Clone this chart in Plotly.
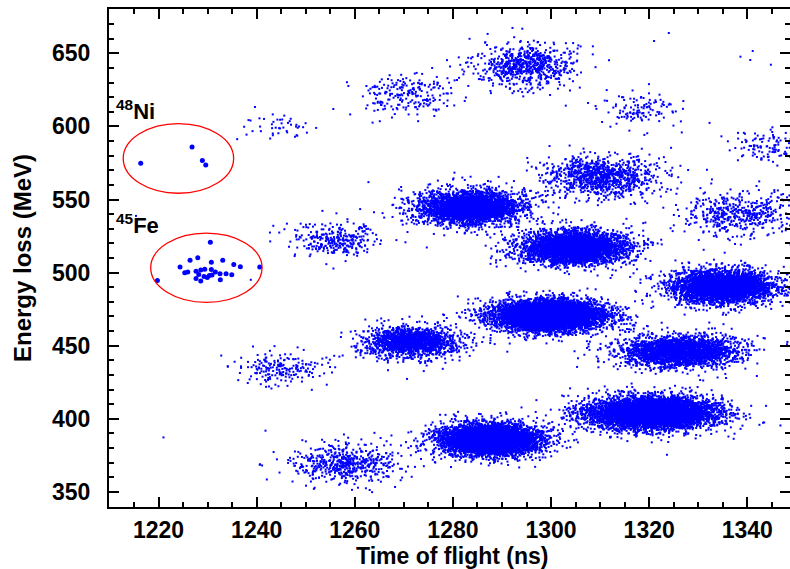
import numpy as np
import plotly.graph_objects as go

# ---- cluster descriptions (time of flight ns, energy loss MeV) ----
clus_x = [1258.5, 1287.6, 1320.5, 1245.0, 1271.5, 1299.8, 1326.3, 1335.0, 1256.0,
          1283.5, 1304.9, 1310.0, 1339.0, 1244.5, 1270.5, 1294.7, 1318.5, 1344.0]
clus_y = [370.0, 385.7, 404.0, 434.0, 452.5, 470.8, 446.0, 490.3, 522.4,
          544.3, 516.9, 565.5, 540.0, 601.0, 621.5, 642.0, 611.5, 587.0]
clus_sx = [5.5, 4.4, 5.8, 4.0, 4.2, 4.8, 5.3, 4.8, 3.8,
           4.7, 4.7, 5.2, 5.3, 4.0, 4.4, 4.8, 3.8, 3.5]
clus_sy = [6.2, 4.7, 5.0, 5.5, 4.8, 4.7, 5.0, 5.0, 5.8,
           5.2, 5.0, 6.3, 7.0, 5.5, 6.5, 7.0, 5.5, 5.5]
clus_n = [550, 6000, 6500, 200, 1700, 7500, 2600, 3800, 300,
          3500, 4200, 1000, 500, 45, 220, 700, 120, 110]

# isolated events outside the clusters
stray_x = [1221.0, 1240.7, 1241.8, 1215.4, 1238.8, 1242.7, 1244.6, 1324.0, 1321.0,
           1338.6, 1341.1, 1340.6, 1344.8, 1332.3, 1303.0, 1304.5, 1299.8]
stray_y = [387.3, 368.9, 391.9, 538.8, 495.1, 527.4, 527.4, 663.9, 658.4,
           647.7, 651.6, 645.4, 642.2, 602.4, 614.2, 657.0, 621.5]

# identified 48Ni events
ni_x = [1216.37, 1226.83, 1228.93, 1229.62]
ni_y = [574.83, 585.97, 576.60, 573.67]

# identified 45Fe events
fe_x = [1230.56, 1227.99, 1226.42, 1233.08, 1230.76, 1224.38, 1235.33, 1236.67, 1240.62,
        1225.34, 1225.95, 1227.64, 1228.60, 1229.42, 1230.76, 1231.58, 1228.19, 1229.27,
        1229.94, 1230.35, 1230.90, 1232.53, 1233.76, 1234.92, 1227.64, 1228.60, 1232.59,
        1219.76]
fe_y = [520.84, 510.11, 508.54, 508.54, 507.17, 503.76, 505.53, 503.96, 503.76,
        499.86, 500.34, 501.02, 501.71, 502.39, 502.12, 500.34, 498.70, 497.33,
        496.65, 498.01, 498.29, 499.18, 499.18, 498.50, 495.97, 494.19, 495.08,
        494.60]

# gate ellipses [x0, x1, y0, y1]
ni_gate = [1212.8, 1235.3, 554.3, 601.9]
fe_gate = [1218.4, 1241.1, 479.6, 527.0]

# ---- build the event cloud from the cluster descriptions ----
rng = np.random.default_rng(7)
xs, ys = [], []
for cx, cy, sx, sy, n in zip(clus_x, clus_y, clus_sx, clus_sy, clus_n):
    nc = int(n * 0.8)
    nh = n - nc
    xs.append(rng.normal(cx, sx, nc)); ys.append(rng.normal(cy, sy, nc))
    xs.append(rng.normal(cx, sx * 1.4, nh)); ys.append(rng.normal(cy, sy * 1.35, nh))
xs.append(np.array(stray_x)); ys.append(np.array(stray_y))
X = np.concatenate(xs); Y = np.concatenate(ys)

fig = go.Figure()
fig.add_trace(go.Scatter(x=X, y=Y, mode="markers",
                         marker=dict(symbol="square", size=2, color="#0000ff", line=dict(width=0)),
                         hoverinfo="skip", showlegend=False))
fig.add_trace(go.Scatter(x=ni_x + fe_x, y=ni_y + fe_y, mode="markers",
                         marker=dict(symbol="circle", size=5, color="#0000ff", line=dict(width=0)),
                         showlegend=False))

for g in (ni_gate, fe_gate):
    fig.add_shape(type="circle", xref="x", yref="y", x0=g[0], x1=g[1], y0=g[2], y1=g[3],
                  line=dict(color="#ff0000", width=1.3))

lab_font = dict(family="Liberation Sans", size=22, color="black", weight="bold")
fig.add_annotation(x=1211.0, y=611.0, xref="x", yref="y", text="<sup>48</sup>Ni",
                   showarrow=False, xanchor="left", yanchor="middle", font=lab_font)
fig.add_annotation(x=1211.0, y=533.5, xref="x", yref="y", text="<sup>45</sup>Fe",
                   showarrow=False, xanchor="left", yanchor="middle", font=lab_font)

tick_font = dict(family="Liberation Sans", size=23, color="black", weight="bold")
title_font = dict(family="Liberation Sans", size=24, color="black", weight="bold")
xtitle_font = dict(family="Liberation Sans", size=23, color="black", weight="bold")

# x-axis title placed just under the tick labels
fig.add_annotation(x=0.505, y=-0.098, xref="paper", yref="paper", text="Time of flight (ns)",
                   showarrow=False, xanchor="center", yanchor="middle", font=xtitle_font)

fig.update_xaxes(range=[1209.9, 1348.7], tickvals=[1220, 1240, 1260, 1280, 1300, 1320, 1340],
                 ticks="inside", ticklen=10, tickwidth=2, tickcolor="black",
                 minor=dict(dtick=5, ticks="inside", ticklen=5, tickwidth=1.5, tickcolor="black"),
                 showline=True, linewidth=2, linecolor="black", mirror="ticks",
                 showgrid=False, zeroline=False, tickfont=tick_font, ticklabelstandoff=1)
fig.update_yaxes(range=[339.7, 680.3], tickvals=[350, 400, 450, 500, 550, 600, 650],
                 ticks="inside", ticklen=10, tickwidth=2, tickcolor="black",
                 minor=dict(dtick=10, ticks="inside", ticklen=5, tickwidth=1.5, tickcolor="black"),
                 showline=True, linewidth=2, linecolor="black", mirror="ticks",
                 showgrid=False, zeroline=False, tickfont=tick_font, ticklabelstandoff=12,
                 title=dict(text="Energy loss (MeV)", font=title_font, standoff=14))

fig.update_layout(width=790, height=569, margin=dict(l=109, r=0, t=9, b=62, autoexpand=False),
                  paper_bgcolor="white", plot_bgcolor="white")

fig.write_html("out.html")
